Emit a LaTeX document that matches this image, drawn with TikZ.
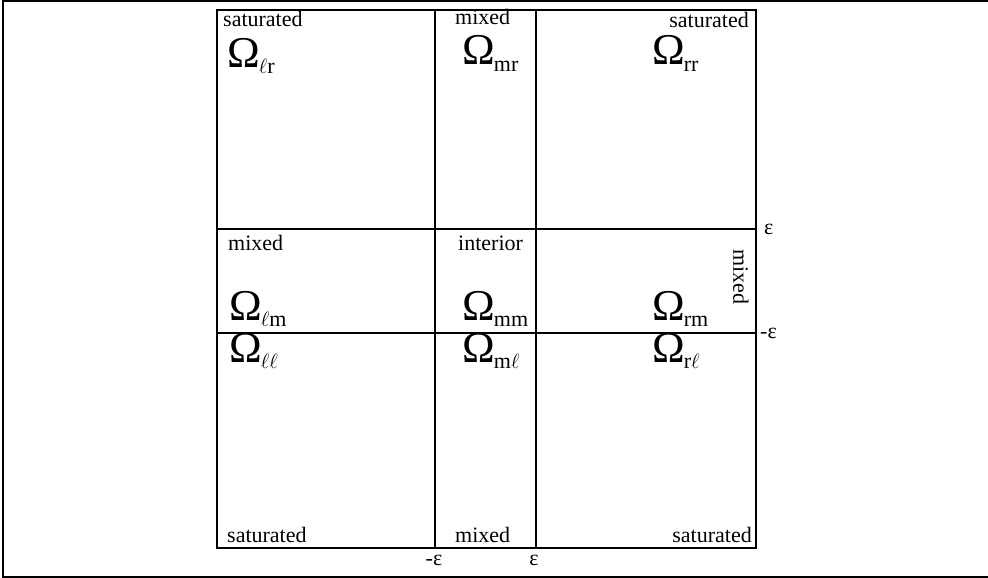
\documentclass[tikz,border=0pt]{standalone}
\usepackage{fontspec}
\setmainfont{Liberation Serif}
\newcommand{\OmLab}[1]{{\fontsize{44}{44}\selectfont Ω}\kern-1pt\raisebox{-6pt}{\fontsize{22}{22}\selectfont #1}}
\begin{document}
\begin{tikzpicture}[x=1pt,y=-1pt,
  lab/.style={inner sep=0pt,anchor=base west,font=\fontsize{22}{22}\selectfont},
  omg/.style={inner sep=0pt,anchor=base west},
  eps/.style={inner sep=0pt,font=\fontsize{22}{22}\selectfont},
  gridline/.style={line width=2.8pt},
  frameline/.style={line width=2pt}]
\useasboundingbox (0,0) rectangle (988,578);
% outer frame
\draw[frameline] (988,1) -- (3,1) -- (3,577) -- (988,577);
% grid
\draw[gridline] (217,10) rectangle (756,548);
\draw[gridline] (435,10) -- (435,548);
\draw[gridline] (536,10) -- (536,548);
\draw[gridline] (217,229) -- (756,229);
\draw[gridline] (217,333) -- (756,333);
% top row
\node[lab] (t1) at (223,27) {saturated};
\node[lab] (t2) at (455,25) {mixed};
\node[lab,anchor=base east] (t3) at (749,28) {saturated};
\node[omg] (o1) at (227,67) {\OmLab{$\ell$r}};
\node[omg] (o2) at (462,65) {\OmLab{mr}};
\node[omg] (o3) at (652,65) {\OmLab{rr}};
% middle row
\node[lab] (m1) at (228,250) {mixed};
\node[lab] (m2) at (458,250) {interior};
\node[inner sep=0pt,rotate=-90,font=\fontsize{22}{22}\selectfont] (m3) at (741,277) {mixed};
\node[omg] (o4) at (229,320) {\OmLab{$\ell$m}};
\node[omg] (o5) at (462,320) {\OmLab{mm}};
\node[omg] (o6) at (652,320) {\OmLab{rm}};
% bottom row
\node[omg] (o7) at (229,362) {\OmLab{$\ell\ell$}};
\node[omg] (o8) at (462,362) {\OmLab{m$\ell$}};
\node[omg] (o9) at (652,362) {\OmLab{r$\ell$}};
\node[lab] (b1) at (227,542) {saturated};
\node[lab] (b2) at (455,542) {mixed};
\node[lab,anchor=base east] (b3) at (752,542) {saturated};
% epsilon marks
\node[eps,anchor=west] (e1) at (764,229) {ε};
\node[eps,anchor=west] (e2) at (760,333) {-ε};
\node[eps] (e3) at (434,560) {-ε};
\node[eps] (e4) at (534,560) {ε};
\end{tikzpicture}
\end{document}
